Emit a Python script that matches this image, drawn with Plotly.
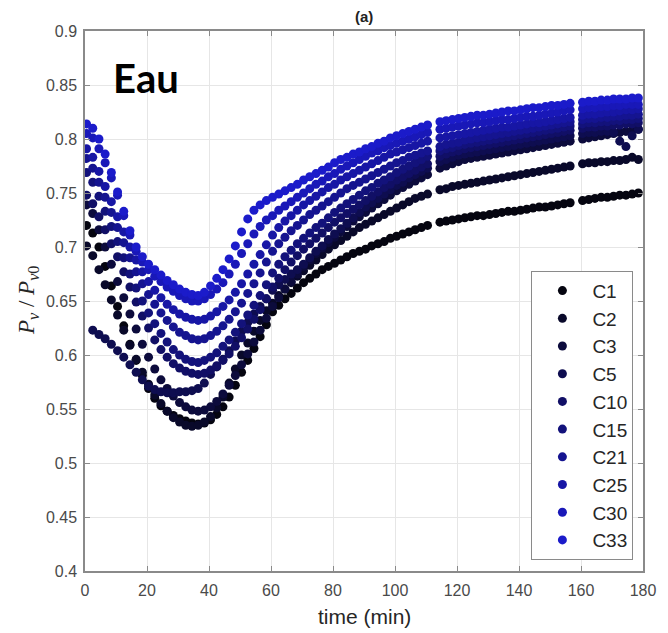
import plotly.graph_objects as go

# time stamps (min); small gaps near 112 and 158 min as in the recording
TIME = [0.5, 2.5, 4.5, 6.5, 8.5, 10.5, 12.5, 14.5, 16.5, 18.5,
        20.5, 22.5, 24.5, 26.5, 28.5, 30.5, 32.5, 34.5, 36.5, 38.5,
        40.5, 42.5, 44.5, 46.5, 48.5, 50.5, 52.5, 54.5, 56.5, 58.5,
        60.5, 62.5, 64.5, 66.5, 68.5, 70.5, 72.5, 74.5, 76.5, 78.5,
        80.5, 82.5, 84.5, 86.5, 88.5, 90.5, 92.5, 94.5, 96.5, 98.5,
        100.5, 102.5, 104.5, 106.5, 108.5, 110.5,
        114.5, 116.5, 118.5, 120.5, 122.5, 124.5, 126.5, 128.5, 130.5, 132.5, 134.5,
        136.5, 138.5, 140.5, 142.5, 144.5, 146.5, 148.5, 150.5, 152.5, 154.5, 156.5,
        160.5, 162.5, 164.5, 166.5, 168.5, 170.5, 172.5, 174.5, 176.5, 178.5]

C1 = [0.720, 0.713, 0.700, 0.682, 0.664, 0.645, 0.627, 0.610, 0.595, 0.581,
      0.569, 0.560, 0.553, 0.548, 0.544, 0.541, 0.539, 0.537, 0.536, 0.537,
      0.540, 0.545, 0.552, 0.561, 0.572, 0.584, 0.595, 0.606, 0.617, 0.628,
      0.640, 0.646, 0.652, 0.657, 0.662, 0.667, 0.671, 0.675, 0.679, 0.682,
      0.685, 0.688, 0.691, 0.694, 0.696, 0.698, 0.701, 0.703, 0.705, 0.708,
      0.710, 0.712, 0.714, 0.716, 0.718, 0.720,
      0.723, 0.724, 0.725, 0.726, 0.727, 0.728, 0.729, 0.729, 0.730, 0.731, 0.732,
      0.733, 0.733, 0.734, 0.735, 0.736, 0.737, 0.737, 0.738, 0.739, 0.740, 0.741,
      0.743, 0.744, 0.745, 0.746, 0.746, 0.747, 0.748, 0.748, 0.749, 0.750]

C2 = [0.701, 0.692, 0.679, 0.665, 0.651, 0.637, 0.623, 0.609, 0.596, 0.584,
      0.573, 0.563, 0.555, 0.548, 0.542, 0.538, 0.535, 0.534, 0.535, 0.538,
      0.543, 0.551, 0.561, 0.574, 0.587, 0.600, 0.611, 0.622, 0.632, 0.641,
      0.648, 0.655, 0.661, 0.667, 0.673, 0.678, 0.683, 0.688, 0.693, 0.698,
      0.702, 0.706, 0.710, 0.714, 0.718, 0.721, 0.724, 0.727, 0.730, 0.733,
      0.736, 0.739, 0.742, 0.745, 0.747, 0.749,
      0.753, 0.754, 0.756, 0.757, 0.758, 0.759, 0.760, 0.761, 0.762, 0.763, 0.764,
      0.765, 0.766, 0.767, 0.768, 0.769, 0.770, 0.771, 0.772, 0.773, 0.774, 0.775,
      0.777, 0.778, 0.778, 0.779, 0.779, 0.780, 0.780, 0.781, 0.783, 0.781]

C3 = [0.739, 0.731, 0.716, 0.700, 0.684, 0.668, 0.653, 0.638, 0.624, 0.610,
      0.598, 0.587, 0.577, 0.569, 0.562, 0.556, 0.552, 0.549, 0.548, 0.549,
      0.552, 0.557, 0.564, 0.572, 0.581, 0.591, 0.601, 0.612, 0.623, 0.634,
      0.645, 0.653, 0.661, 0.668, 0.675, 0.682, 0.688, 0.694, 0.699, 0.704,
      0.709, 0.714, 0.719, 0.724, 0.728, 0.732, 0.736, 0.740, 0.744, 0.748,
      0.752, 0.755, 0.758, 0.761, 0.764, 0.767,
      0.773, 0.775, 0.777, 0.779, 0.781, 0.782, 0.783, 0.784, 0.785, 0.786, 0.787,
      0.788, 0.789, 0.790, 0.791, 0.792, 0.793, 0.794, 0.795, 0.796, 0.797, 0.798,
      0.800, 0.801, 0.802, 0.803, 0.804, 0.805, 0.806, 0.807, 0.808, 0.809]

C5 = [None, 0.623, 0.619, 0.615, 0.610, 0.604, 0.598, 0.591, 0.584, 0.577,
      0.571, 0.568, 0.566, 0.565, 0.565, 0.566, 0.566, 0.567, 0.569, 0.574,
      0.582, 0.589, 0.596, 0.604, 0.613, 0.622, 0.630, 0.638, 0.645, 0.652,
      0.660, 0.665, 0.670, 0.675, 0.679, 0.684, 0.690, 0.696, 0.701, 0.707,
      0.712, 0.717, 0.722, 0.727, 0.732, 0.737, 0.741, 0.745, 0.749, 0.753,
      0.757, 0.760, 0.764, 0.767, 0.770, 0.773,
      0.779, 0.781, 0.783, 0.785, 0.786, 0.787, 0.788, 0.789, 0.790, 0.791, 0.792,
      0.793, 0.794, 0.795, 0.796, 0.797, 0.798, 0.799, 0.800, 0.801, 0.802, 0.803,
      0.805, 0.806, 0.806, 0.807, 0.807, 0.806, 0.798, 0.793, 0.803, 0.809]

C10 = [0.748, 0.740, 0.728, 0.716, 0.703, 0.691, 0.677, 0.663, 0.649, 0.636,
       0.625, 0.614, 0.605, 0.598, 0.592, 0.588, 0.585, 0.583, 0.582, 0.583,
       0.586, 0.590, 0.595, 0.601, 0.608, 0.616, 0.624, 0.633, 0.642, 0.652,
       0.663, 0.671, 0.679, 0.686, 0.692, 0.698, 0.703, 0.708, 0.713, 0.718,
       0.723, 0.727, 0.731, 0.735, 0.739, 0.743, 0.747, 0.751, 0.755, 0.758,
       0.762, 0.765, 0.768, 0.771, 0.774, 0.777,
       0.784, 0.786, 0.788, 0.789, 0.791, 0.792, 0.793, 0.794, 0.795, 0.796, 0.797,
       0.798, 0.799, 0.800, 0.801, 0.802, 0.803, 0.804, 0.805, 0.806, 0.807, 0.808,
       0.810, 0.811, 0.811, 0.812, 0.812, 0.813, 0.813, 0.814, 0.814, 0.815]

C15 = [0.769, 0.760, 0.747, 0.733, 0.719, 0.705, 0.690, 0.675, 0.662, 0.650,
       0.639, 0.629, 0.620, 0.612, 0.605, 0.600, 0.596, 0.594, 0.593, 0.595,
       0.598, 0.602, 0.608, 0.614, 0.621, 0.629, 0.637, 0.646, 0.655, 0.665,
       0.676, 0.684, 0.691, 0.697, 0.703, 0.708, 0.713, 0.718, 0.722, 0.727,
       0.732, 0.736, 0.740, 0.744, 0.748, 0.752, 0.755, 0.759, 0.762, 0.765,
       0.769, 0.772, 0.775, 0.778, 0.781, 0.784,
       0.789, 0.791, 0.792, 0.794, 0.795, 0.796, 0.797, 0.798, 0.799, 0.800, 0.801,
       0.802, 0.803, 0.804, 0.805, 0.806, 0.807, 0.808, 0.809, 0.810, 0.811, 0.812,
       0.814, 0.815, 0.815, 0.816, 0.816, 0.817, 0.817, 0.818, 0.818, 0.819]

C21 = [0.782, 0.773, 0.760, 0.746, 0.732, 0.718, 0.704, 0.690, 0.677, 0.666,
       0.656, 0.647, 0.639, 0.632, 0.626, 0.621, 0.618, 0.615, 0.614, 0.615,
       0.618, 0.622, 0.627, 0.633, 0.640, 0.648, 0.657, 0.666, 0.676, 0.686,
       0.696, 0.703, 0.709, 0.715, 0.720, 0.725, 0.730, 0.734, 0.738, 0.742,
       0.746, 0.750, 0.754, 0.757, 0.760, 0.763, 0.766, 0.769, 0.772, 0.775,
       0.778, 0.780, 0.783, 0.785, 0.787, 0.789,
       0.793, 0.795, 0.796, 0.797, 0.799, 0.800, 0.801, 0.802, 0.803, 0.804, 0.805,
       0.806, 0.807, 0.808, 0.809, 0.810, 0.811, 0.812, 0.813, 0.814, 0.815, 0.816,
       0.818, 0.819, 0.819, 0.820, 0.820, 0.821, 0.821, 0.822, 0.822, 0.823]

C25 = [0.791, 0.783, 0.770, 0.756, 0.742, 0.728, 0.714, 0.700, 0.688, 0.677,
       0.668, 0.660, 0.653, 0.647, 0.642, 0.638, 0.635, 0.633, 0.632, 0.633,
       0.636, 0.640, 0.645, 0.651, 0.658, 0.666, 0.675, 0.684, 0.693, 0.702,
       0.711, 0.718, 0.724, 0.729, 0.734, 0.739, 0.743, 0.747, 0.751, 0.755,
       0.758, 0.762, 0.765, 0.768, 0.771, 0.774, 0.777, 0.780, 0.783, 0.786,
       0.788, 0.790, 0.792, 0.794, 0.796, 0.798,
       0.801, 0.802, 0.803, 0.804, 0.805, 0.806, 0.807, 0.808, 0.809, 0.810, 0.811,
       0.811, 0.812, 0.813, 0.814, 0.815, 0.815, 0.816, 0.817, 0.818, 0.819, 0.820,
       0.822, 0.823, 0.823, 0.824, 0.825, 0.825, 0.826, 0.827, 0.827, 0.828]

C30 = [0.805, 0.801, 0.791, 0.778, 0.764, 0.748, 0.729, 0.711, 0.696, 0.686,
       0.679, 0.673, 0.668, 0.663, 0.659, 0.655, 0.652, 0.650, 0.650, 0.652,
       0.656, 0.661, 0.667, 0.675, 0.684, 0.694, 0.703, 0.712, 0.719, 0.725,
       0.729, 0.734, 0.738, 0.742, 0.746, 0.750, 0.754, 0.758, 0.761, 0.765,
       0.768, 0.772, 0.775, 0.778, 0.781, 0.784, 0.787, 0.789, 0.792, 0.794,
       0.796, 0.798, 0.800, 0.802, 0.804, 0.806,
       0.809, 0.810, 0.811, 0.812, 0.813, 0.814, 0.815, 0.815, 0.816, 0.817, 0.818,
       0.818, 0.819, 0.820, 0.821, 0.821, 0.822, 0.823, 0.824, 0.825, 0.826, 0.827,
       0.828, 0.829, 0.829, 0.830, 0.830, 0.831, 0.831, 0.832, 0.832, 0.832]

C33 = [0.814, 0.810, 0.800, 0.786, 0.769, 0.751, 0.733, 0.715, 0.700, 0.691,
       0.684, 0.679, 0.674, 0.669, 0.665, 0.661, 0.658, 0.656, 0.655, 0.658,
       0.664, 0.671, 0.679, 0.689, 0.701, 0.714, 0.726, 0.734, 0.739, 0.743,
       0.746, 0.749, 0.752, 0.755, 0.758, 0.762, 0.765, 0.768, 0.771, 0.774,
       0.778, 0.781, 0.783, 0.786, 0.788, 0.791, 0.793, 0.796, 0.798, 0.801,
       0.803, 0.805, 0.807, 0.809, 0.811, 0.813,
       0.816, 0.817, 0.818, 0.819, 0.820, 0.821, 0.822, 0.822, 0.823, 0.824, 0.825,
       0.826, 0.826, 0.827, 0.828, 0.829, 0.829, 0.830, 0.831, 0.831, 0.832, 0.833,
       0.834, 0.835, 0.835, 0.836, 0.836, 0.837, 0.837, 0.837, 0.838, 0.838]

SERIES_NAMES = ["C1", "C2", "C3", "C5", "C10", "C15", "C21", "C25", "C30", "C33"]
SERIES_VALUES = [C1, C2, C3, C5, C10, C15, C21, C25, C30, C33]
SERIES_COLORS = ["#050510", "#09092a", "#0c0b3c", "#0e0d50", "#110f66",
                 "#13127b", "#151490", "#1716a5", "#1918b8", "#1b1bca"]

X_TICKS = [0, 20, 40, 60, 80, 100, 120, 140, 160, 180]
Y_TICKS = [0.4, 0.45, 0.5, 0.55, 0.6, 0.65, 0.7, 0.75, 0.8, 0.85, 0.9]
Y_TICK_TEXT = ["0.4", "0.45", "0.5", "0.55", "0.6", "0.65", "0.7", "0.75", "0.8", "0.85", "0.9"]

fig = go.Figure()
for name, vals, col in zip(SERIES_NAMES, SERIES_VALUES, SERIES_COLORS):
    fig.add_trace(go.Scatter(
        x=TIME, y=vals, mode="markers", name=name,
        marker=dict(size=9, color=col, line=dict(width=0)),
        legendgroup=name,
    ))

axis_common = dict(
    showline=True, linecolor="#8a8a8a", linewidth=1.5, mirror="ticks",
    ticks="inside", ticklen=5, tickcolor="#8a8a8a", tickwidth=1,
    showgrid=True, gridcolor="#e6e6e6", gridwidth=1, zeroline=False,
    tickfont=dict(family="Liberation Sans, Arial", size=16, color="#4a4a4a"),
)

fig.update_layout(
    width=668, height=633,
    margin=dict(l=85, r=17, t=31, b=62),
    plot_bgcolor="white", paper_bgcolor="white",
    showlegend=True,
    legend=dict(
        x=0.8, y=0.556, xanchor="left", yanchor="top",
        bgcolor="white", bordercolor="#8a8a8a", borderwidth=1,
        font=dict(family="Liberation Sans, Arial", size=19, color="#262626"),
        itemwidth=50, tracegroupgap=0,
    ),
    xaxis=dict(range=[0, 180], tickvals=X_TICKS, ticklabelstandoff=4, **axis_common),
    yaxis=dict(range=[0.4, 0.9], tickvals=Y_TICKS, ticktext=Y_TICK_TEXT,
               ticklabelstandoff=3, **axis_common),
    annotations=[
        dict(text="<b>(a)</b>", xref="paper", yref="paper", x=0.5, y=1.0, yshift=15,
             xanchor="center", yanchor="middle", showarrow=False,
             font=dict(family="Liberation Sans, Arial", size=15, color="#222222")),
        dict(text="<b>Eau</b>", xref="paper", yref="paper", x=0.047, y=0.913,
             xanchor="left", yanchor="middle", showarrow=False,
             font=dict(family="Lato", size=40, color="black")),
        dict(text="time (min)", xref="paper", yref="paper", x=0.5, y=0, yshift=-45,
             xanchor="center", yanchor="middle", showarrow=False,
             font=dict(family="Liberation Sans, Arial", size=21, color="#262626")),
        dict(text="<i>P</i><sub><i>v</i></sub> / <i>P</i><sub><i>v</i>0</sub>",
             xref="paper", yref="paper", x=0, xshift=-57, y=0.5,
             xanchor="center", yanchor="middle", textangle=-90, showarrow=False,
             font=dict(family="Liberation Serif, DejaVu Serif", size=23, color="#262626")),
    ],
)

fig.write_html("out.html")
